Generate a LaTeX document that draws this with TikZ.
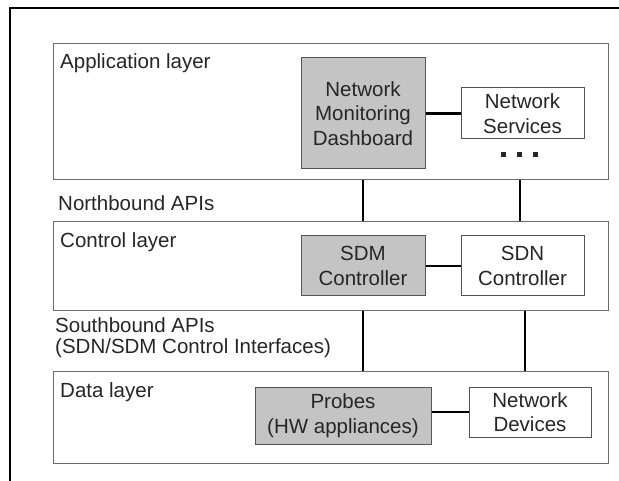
\documentclass[tikz,border=0pt]{standalone}
\usepackage{fontspec}
\setmainfont{Liberation Sans}
\definecolor{boxfill}{HTML}{C4C4C4}
\definecolor{txt}{HTML}{262626}
\definecolor{edge}{HTML}{555555}
\definecolor{layeredge}{HTML}{6A6A6A}
\begin{document}
\begin{tikzpicture}[x=1pt,y=-1pt,
  every node/.style={font=\fontsize{20.5}{24.5}\selectfont, text=txt},
  layerbox/.style={draw=layeredge, line width=1.3pt, fill=white},
  compbox/.style={draw=edge, line width=1pt, align=center, inner sep=0pt},
  greybox/.style={compbox, fill=boxfill},
  whitebox/.style={compbox, fill=white},
  lbl/.style={anchor=west, inner sep=0pt},
  link/.style={line width=2.4pt, black},
  dotmark/.style={fill=black!85},
  frameline/.style={line width=2.2pt, black}]
\useasboundingbox (0,0) rectangle (619,481);
\coordinate (ftl) at (10,8);
\coordinate (fbl) at (10,481);
\coordinate (ftr) at (619,8);
\draw[frameline] (fbl) -- (ftl) -- (ftr);

% layers
\node[layerbox, minimum width=555pt, minimum height=136pt, anchor=north west] (app) at (53,43) {};
\node[layerbox, minimum width=555pt, minimum height=89pt, anchor=north west] (ctrl) at (53,221) {};
\node[layerbox, minimum width=555pt, minimum height=92pt, anchor=north west] (data) at (53,371) {};

\node[lbl] (applbl) at (60,63) {Application layer};
\node[lbl] (ctrllbl) at (60,242) {Control layer};
\node[lbl] (datalbl) at (60,392) {Data layer};
\node[lbl] (nbapi) at (58,203) {Northbound APIs};
\node[lbl] (sbapi) at (55,325) {Southbound APIs};
\node[lbl] (sbapi2) at (55,348) {(SDN/SDM Control Interfaces)};

% components
\node[greybox, minimum width=124pt, minimum height=111pt] (nmd) at (363,113.5) {Network\\Monitoring\\Dashboard};
\node[whitebox, minimum width=123pt, minimum height=51pt] (ns) at (522.5,113.5) {Network\\Services};
% ellipsis marks
\fill[dotmark] (500.5,152.5) rectangle ++(5,5);
\fill[dotmark] (516.5,152.5) rectangle ++(5,5);
\fill[dotmark] (532.5,152.5) rectangle ++(5,5);

\node[greybox, minimum width=124pt, minimum height=60pt] (sdm) at (363,266) {SDM\\Controller};
\node[whitebox, minimum width=123pt, minimum height=60pt] (sdn) at (522.5,266) {SDN\\Controller};

\node[greybox, minimum width=176pt, minimum height=57pt] (probes) at (343,415.5) {Probes\\(HW appliances)};
\node[whitebox, minimum width=122pt, minimum height=50pt] (nd) at (530,412) {Network\\Devices};

% links
\draw[link] (nmd.east |- ns.west) -- (ns.west);
\draw[link] (sdm.east |- sdn.west) -- (sdn.west);
\draw[link] (probes.east |- nd.west) -- (nd.west);

\coordinate (c1) at (363,0);
\coordinate (c2) at (520,0);
\coordinate (c3) at (525,0);
\draw[link] (app.south -| c1) -- (ctrl.north -| c1);
\draw[link] (app.south -| c2) -- (ctrl.north -| c2);
\draw[link] (ctrl.south -| c1) -- (data.north -| c1);
\draw[link] (ctrl.south -| c3) -- (data.north -| c3);
\end{tikzpicture}
\end{document}
